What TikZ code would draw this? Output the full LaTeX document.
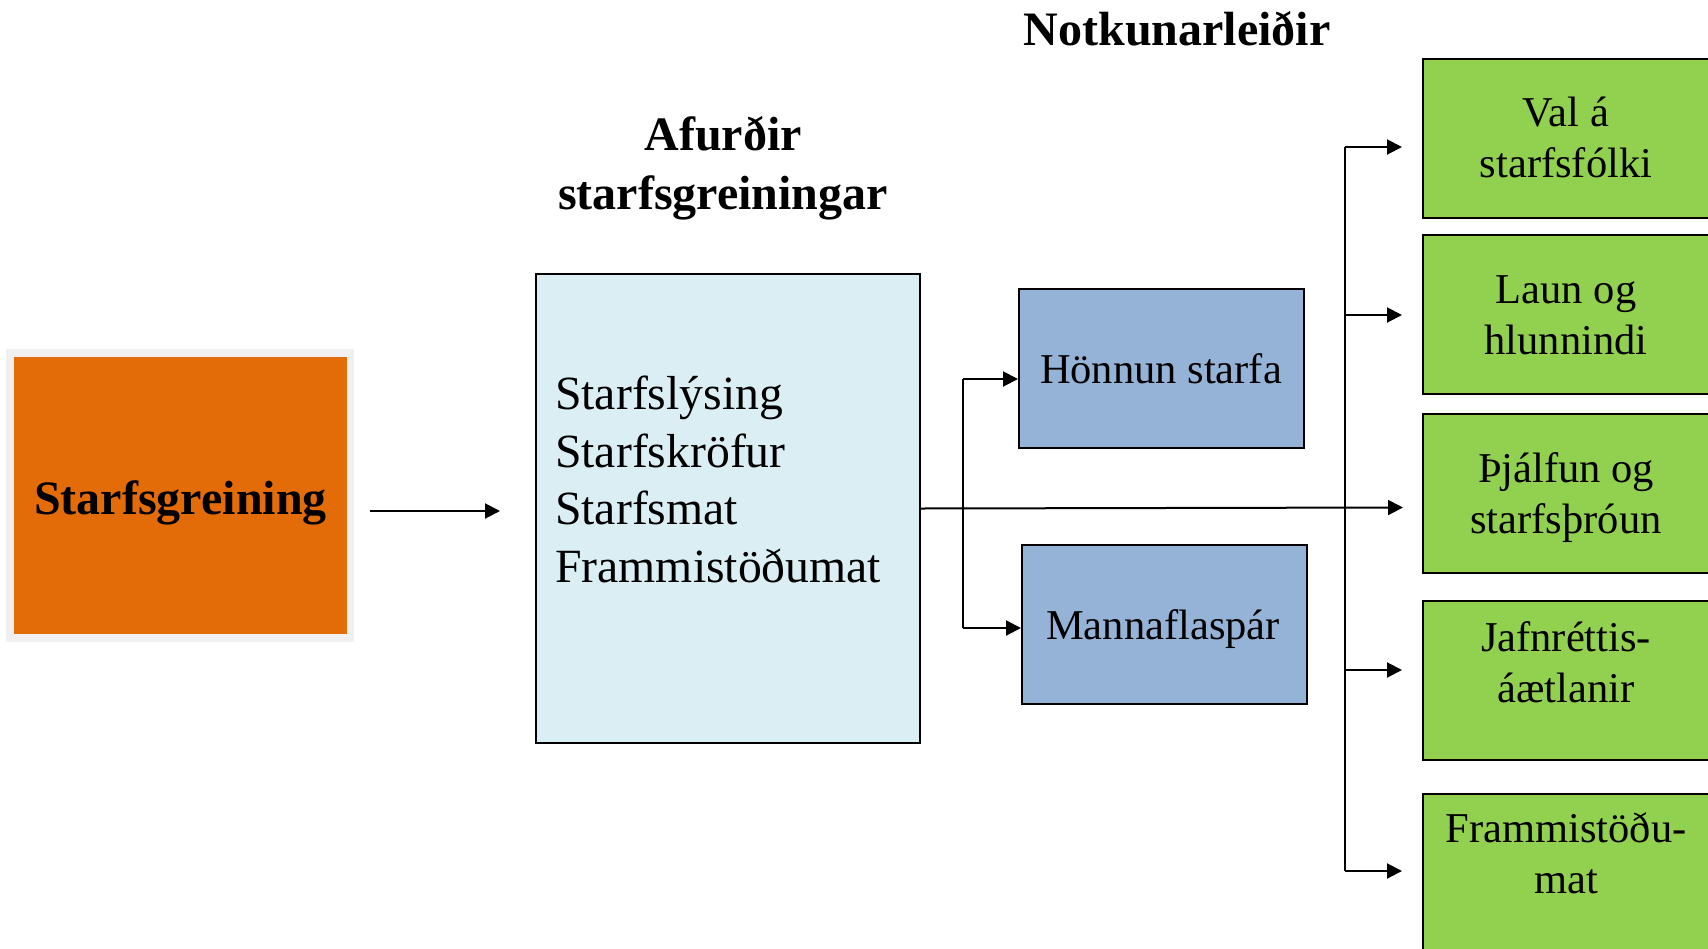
\documentclass[tikz,border=0pt]{standalone}
\usepackage{fontspec}
\setmainfont{Liberation Serif}
\usetikzlibrary{arrows.meta}
\definecolor{orangebox}{HTML}{E36C09}
\definecolor{ltblue}{HTML}{DBEEF4}
\definecolor{midblue}{HTML}{95B3D7}
\definecolor{greenbox}{HTML}{92D050}
\definecolor{framegray}{HTML}{F0F0F0}
\begin{document}
\begin{tikzpicture}[x=1pt,y=-1pt,
  box/.style={draw=black, line width=2pt, inner sep=0pt, anchor=north west},
  gbox/.style={box, fill=greenbox, minimum width=290pt, minimum height=159pt},
  bbox/.style={box, fill=midblue, minimum width=285pt, minimum height=159pt},
  title/.style={font=\fontsize{48}{59}\selectfont\bfseries, align=center, inner sep=0pt, anchor=base},
  gtext/.style={font=\fontsize{42.5}{50.5}\selectfont, align=center, inner sep=0pt, anchor=base},
  conn/.style={line width=2pt},
  arr/.style={line width=2pt, -{Triangle[length=15pt,width=15pt]}}
]
\useasboundingbox (0,0) rectangle (1708,948);

% titles (anchor = baseline of last line)
\node[title] (t1) at (1177,45) {Notkunarleiðir};
\node[title] (t2) at (723,209) {Afurðir\\starfsgreiningar};

% orange box
\node[fill=framegray, inner sep=0pt, minimum width=348pt, minimum height=293pt, anchor=north west] (frame) at (6,349) {};
\node[fill=orangebox, inner sep=0pt, minimum width=333pt, minimum height=277pt, anchor=north west] (sgbox) at (14,357) {};
\node[title] (sg) at (180.5,514) {Starfsgreining};

% light blue box
\node[box, fill=ltblue, minimum width=384pt, minimum height=469pt] (lb) at (535,273) {};
\node[font=\fontsize{47.7}{57.5}\selectfont, align=left, inner sep=0pt, anchor=base west] (lbt) at (555,582)
  {Starfslýsing\\Starfskröfur\\Starfsmat\\Frammistöðumat};

% mid blue boxes
\node[bbox] (hon) at (1018,288) {};
\node[gtext] (hont) at (1161,383) {Hönnun starfa};
\node[bbox] (man) at (1021,544) {};
\node[gtext] (mant) at (1163,639) {Mannaflaspár};

% green boxes
\node[gbox] (g1) at (1422,58) {};
\node[gbox] (g2) at (1422,234) {};
\node[gbox] (g3) at (1422,413) {};
\node[gbox] (g4) at (1422,600) {};
\node[gbox] (g5) at (1422,793) {};
\node[gtext] (g1t) at (1566,177) {Val á\\starfsfólki};
\node[gtext] (g2t) at (1566,354) {Laun og\\hlunnindi};
\node[gtext] (g3t) at (1566,533) {Þjálfun og\\starfsþróun};
\node[gtext] (g4t) at (1566,702) {Jafnréttis-\\áætlanir};
\node[gtext] (g5t) at (1566,893) {Frammistöðu-\\mat};

% connector points
\coordinate (a1) at (370,511);
\coordinate (a2) at (500,511);
\coordinate (m3) at (1403,507.5);
\coordinate (bt) at (963,379);
\coordinate (bb) at (963,628);
\coordinate (hb) at (1018,379);
\coordinate (mb) at (1021,628);
\coordinate (r1) at (1345,147);
\coordinate (r2) at (1345,315);
\coordinate (r4) at (1345,670);
\coordinate (r5) at (1345,871);
\coordinate (e1) at (1402,147);
\coordinate (e2) at (1402,315);
\coordinate (e4) at (1402,670);
\coordinate (e5) at (1402,871);

\draw[arr] (a1) -- (a2);
\draw[arr] (lb.east) -- (m3);
\draw[conn] (bt) -- (bb);
\draw[arr] (bt) -- (hb);
\draw[arr] (bb) -- (mb);
\draw[conn] (r1) -- (r5);
\draw[arr] (r1) -- (e1);
\draw[arr] (r2) -- (e2);
\draw[arr] (r4) -- (e4);
\draw[arr] (r5) -- (e5);
\end{tikzpicture}
\end{document}
